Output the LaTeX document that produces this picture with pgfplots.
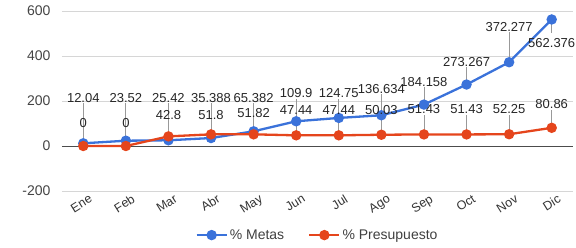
\documentclass[border=0pt]{standalone}
\usepackage{pgfplots}
\usepackage{pgfplotstable}
\pgfplotsset{compat=1.18}
\usepackage{fontspec}
\setmainfont{Liberation Sans}
\definecolor{gblue}{HTML}{3A72DA}
\definecolor{gred}{HTML}{E5451C}
\definecolor{tickgray}{HTML}{444444}
\pgfplotstableread{
x y ep em ly l
0 12.04 178 0 190 12.04
1 23.52 166 0 190 23.52
2 25.42 165 0 190 25.42
3 35.388 155 0 190 35.388
4 65.382 125 0 190 65.382
5 109.9 100 0 210 109.9
6 124.75 85 0 210 124.75
7 136.634 93 0 230 136.634
8 184.158 78 0 262 184.158
9 273.267 78 0 351 273.267
10 372.277 135 0 507 372.277
11 562.376 0 60 435 562.376
}\metas
\pgfplotstableread{
x y ep em ly l
0 0 78 0 78 0
1 0 78 0 78 0
2 42.8 72 0 115 42.8
3 51.8 60 0 112 51.8
4 51.82 70 0 122 51.82
5 47.44 90 0 138 47.44
6 47.44 90 0 138 47.44
7 50.03 88 0 138 50.03
8 51.43 88 0 139 51.43
9 51.43 88 0 139 51.43
10 52.25 87 0 139 52.25
11 80.86 80 0 161 80.86
}\presu
\begin{document}
\begin{tikzpicture}
\begin{axis}[
  at={(0,0)}, anchor=south west,
  scale only axis,
  width=511pt, height=180pt,
  xmin=-0.5, xmax=11.5,
  ymin=-200, ymax=600,
  ytick={-200,0,200,400,600},
  xtick={0,...,11},
  xticklabels={Ene,Feb,Mar,Abr,May,Jun,Jul,Ago,Sep,Oct,Nov,Dic},
  x tick label style={rotate=32, anchor=north east, font=\fontsize{12.5}{13}\selectfont, text=black!80, inner sep=1pt, xshift=4pt, yshift=-4pt},
  y tick label style={font=\fontsize{14}{15}\selectfont, text=tickgray, xshift=-8pt},
  /pgf/number format/assume math mode=true,
  axis line style={draw=none},
  major tick length=0pt,
  ymajorgrids, grid style={draw=black!16, line width=0.9pt},
  extra y ticks={0}, extra y tick labels={},
  extra y tick style={grid style={draw=black!70, line width=0.9pt}},
  legend style={at={(0.5,-0.245)}, anchor=center, draw=none, legend columns=2, font=\fontsize{14}{15}\selectfont, text=black!75, /tikz/every even column/.append style={column sep=22pt}},
  legend image code/.code={\draw[mark repeat=2,mark phase=2,#1] plot coordinates {(0pt,0pt) (15pt,0pt) (30pt,0pt)};},
  legend cell align=left,
  clip=false,
]
\addplot[gblue, line width=2.3pt, mark=*, mark size=4pt,
  error bars/.cd, y dir=both, y explicit, error bar style={black!40, line width=0.8pt, solid}, error mark=none]
  table[x=x, y=y, y error plus=ep, y error minus=em] {\metas};
\addlegendentry{\% Metas}
\addplot[gred, line width=2.3pt, mark=*, mark size=4pt,
  error bars/.cd, y dir=both, y explicit, error bar style={black!40, line width=0.8pt, solid}, error mark=none]
  table[x=x, y=y, y error plus=ep, y error minus=em] {\presu};
\addlegendentry{\% Presupuesto}
\addplot[draw=none, mark=none, forget plot, nodes near coords, point meta=explicit symbolic,
  every node near coord/.append style={anchor=south, font=\fontsize{13}{14}\selectfont, text=black!85, inner sep=0.5pt}]
  table[x=x, y=ly, meta=l] {\metas};
\addplot[draw=none, mark=none, forget plot, nodes near coords, point meta=explicit symbolic,
  every node near coord/.append style={anchor=south, font=\fontsize{13}{14}\selectfont, text=black!85, inner sep=0.5pt}]
  table[x=x, y=ly, meta=l] {\presu};
\end{axis}
\pgfresetboundingbox
\path[use as bounding box] (-62pt,-56pt) rectangle (514pt,191pt);
\end{tikzpicture}
\end{document}
